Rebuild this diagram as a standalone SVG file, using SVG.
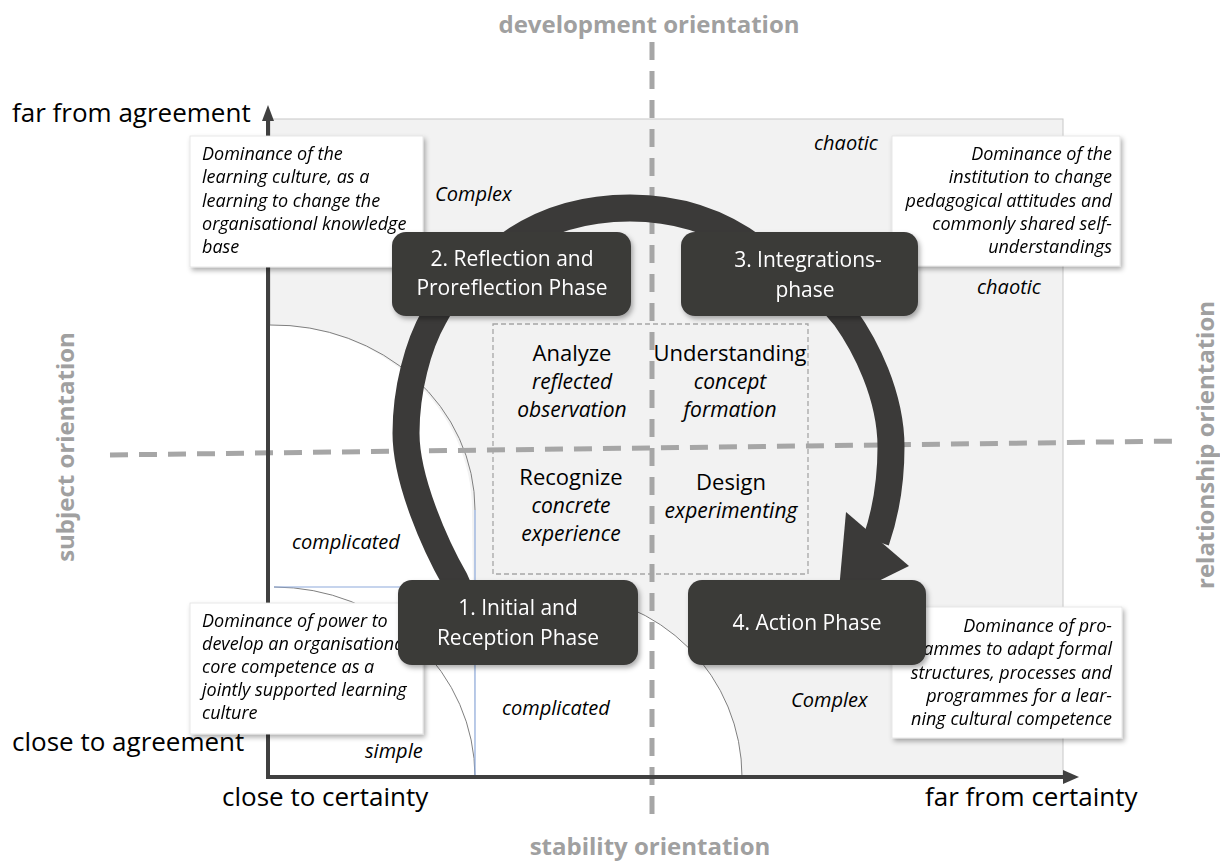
<svg xmlns="http://www.w3.org/2000/svg" width="1220" height="863" viewBox="0 0 1220 863">
  <defs>
    <style>
      .lbl { font-family: "Open Sans", "Noto Sans", sans-serif; fill: #000; }
      .axis-lbl { font-size: 26px; }
      .orient { font-family: "Open Sans", "Noto Sans", sans-serif; font-weight: bold; font-size: 24px; fill: #a0a0a0; }
      .zone { font-style: italic; font-size: 20px; }
      .note { font-style: italic; font-size: 18px; }
      .phase { font-family: "Open Sans", "Noto Sans", sans-serif; font-size: 21px; fill: #fff; text-anchor: middle; }
      .step { font-size: 22px; text-anchor: middle; }
      .sub { font-style: italic; font-size: 21px; text-anchor: middle; }
      .node-box { fill: #3b3a39; }
      .note-box { fill: #fff; stroke: #e2e2e2; stroke-width: 0.8; }
      .guide { fill: none; stroke: #a6a6a6; stroke-width: 5; stroke-dasharray: 18 11; }
      .zone-arc { fill: none; stroke: #7f7f7f; stroke-width: 1; }
      .zone-edge { fill: none; stroke: #8eaadb; stroke-width: 1.2; }
    </style>
    <filter id="shadow" x="-10%" y="-15%" width="125%" height="140%">
      <feDropShadow dx="2" dy="3" stdDeviation="2.4" flood-color="#000" flood-opacity="0.32"/>
    </filter>
  </defs>

  <!-- field of the matrix -->
  <rect x="270" y="119" width="793" height="658" fill="#f2f2f2" stroke="#c8c8c8" stroke-width="1"/>

  <!-- white zones near the origin -->
  <path d="M270,325 A202,185 0 0 1 472,510 L475,777 L270,777 Z" fill="#fff"/>
  <path d="M475,594 L559,594 A183,183 0 0 1 742,777 L475,777 Z" fill="#fff"/>
  <path class="zone-arc" d="M270,325 A202,185 0 0 1 475,510"/>
  <path class="zone-arc" d="M274,587 A201,190 0 0 1 475,777"/>
  <path class="zone-arc" d="M559,594 A183,183 0 0 1 742,777"/>
  <path class="zone-edge" d="M274,587 L475,587 M475,510 L475,777"/>

  <!-- inner learning-cycle frame -->
  <rect x="493" y="324" width="315" height="250" fill="none" stroke="#a6a6a6" stroke-width="1.3" stroke-dasharray="5 3"/>

  <!-- zone labels -->
  <g class="lbl zone">
    <text x="435" y="201">Complex</text>
    <text x="814" y="150">chaotic</text>
    <text x="977" y="294">chaotic</text>
    <text x="292" y="549">complicated</text>
    <text x="502" y="715">complicated</text>
    <text x="365" y="758">simple</text>
    <text x="791" y="707">Complex</text>
  </g>

  <!-- learning steps -->
  <g id="step-analyze" class="lbl">
    <text class="step" x="572" y="361">Analyze</text>
    <text class="sub" x="572" y="389">reflected</text>
    <text class="sub" x="572" y="417">observation</text>
  </g>
  <g id="step-understanding" class="lbl">
    <text class="step" x="730" y="361">Understanding</text>
    <text class="sub" x="730" y="389">concept</text>
    <text class="sub" x="730" y="417">formation</text>
  </g>
  <g id="step-recognize" class="lbl">
    <text class="step" x="571" y="485">Recognize</text>
    <text class="sub" x="571" y="513">concrete</text>
    <text class="sub" x="571" y="541">experience</text>
  </g>
  <g id="step-design" class="lbl">
    <text class="step" x="731" y="490">Design</text>
    <text class="sub" x="731" y="518">experimenting</text>
  </g>

  <!-- orientation guides -->
  <line class="guide" x1="652" y1="42" x2="652" y2="816"/>
  <line class="guide" x1="110" y1="455" x2="1182" y2="441"/>

  <!-- axes -->
  <g id="axes" fill="none" stroke="#404040" stroke-width="4">
    <polyline points="268,779 268,121"/>
    <polygon points="268,105 262,121 274,121" fill="#404040" stroke="none"/>
    <polyline points="266,777 1064,777"/>
    <polygon points="1079,777 1063,770 1063,784" fill="#404040" stroke="none"/>
  </g>

  <!-- connectors: the phase cycle -->
  <g id="connectors" fill="none" stroke="#3b3a39" stroke-width="27">
    <path d="M466,605 L455,580 C435,545 406,480 406,433 C406,390 418,345 434,317 L448,292"/>
    <path d="M492,258 C535,220 585,208 630,208 C680,208 722,222 760,252"/>
    <path d="M822,290 L845,317 C865,345 891,395 891,447 C891,480 886,512 876,541"/>
    <polygon points="846,512 909,566 838,601" fill="#3b3a39" stroke="none"/>
  </g>

  <!-- notes -->
  <g id="note-learning-culture" filter="url(#shadow)">
    <rect class="note-box" x="190" y="136" width="233" height="131"/>
    <text class="lbl note" x="202" y="160">Dominance of the</text>
    <text class="lbl note" x="202" y="183">learning culture, as a</text>
    <text class="lbl note" x="202" y="207">learning to change the</text>
    <text class="lbl note" x="202" y="230">organisational knowledge</text>
    <text class="lbl note" x="202" y="253">base</text>
  </g>
  <g id="note-institution" filter="url(#shadow)">
    <rect class="note-box" x="892" y="136" width="228" height="130"/>
    <g class="lbl note" text-anchor="end">
      <text x="1112" y="160">Dominance of the</text>
      <text x="1112" y="183">institution to change</text>
      <text x="1112" y="207">pedagogical attitudes and</text>
      <text x="1112" y="230">commonly shared self-</text>
      <text x="1112" y="253">understandings</text>
    </g>
  </g>
  <g id="note-power" filter="url(#shadow)">
    <rect class="note-box" x="190" y="603" width="233" height="131"/>
    <text class="lbl note" x="202" y="627">Dominance of power to</text>
    <text class="lbl note" x="202" y="650">develop an organisational</text>
    <text class="lbl note" x="202" y="673">core competence as a</text>
    <text class="lbl note" x="202" y="696">jointly supported learning</text>
    <text class="lbl note" x="202" y="719">culture</text>
  </g>
  <g id="note-programmes" filter="url(#shadow)">
    <rect class="note-box" x="892" y="607" width="230" height="131"/>
    <g class="lbl note" text-anchor="end">
      <text x="1112" y="632">Dominance of pro-</text>
      <text x="1112" y="655">grammes to adapt formal</text>
      <text x="1112" y="679">structures, processes and</text>
      <text x="1112" y="702">programmes for a lear-</text>
      <text x="1112" y="725">ning cultural competence</text>
    </g>
  </g>

  <!-- phases -->
  <g id="phase-2" filter="url(#shadow)">
    <rect class="node-box" x="392" y="232" width="239" height="84" rx="14"/>
    <text class="phase" x="512" y="266">2. Reflection and</text>
    <text class="phase" x="512" y="295">Proreflection Phase</text>
  </g>
  <g id="phase-3" filter="url(#shadow)">
    <rect class="node-box" x="681" y="232" width="237" height="84" rx="14"/>
    <text class="phase" x="808" y="267">3. Integrations-</text>
    <text class="phase" x="805" y="297">phase</text>
  </g>
  <g id="phase-1" filter="url(#shadow)">
    <rect class="node-box" x="398" y="580" width="240" height="85" rx="14"/>
    <text class="phase" x="518" y="615">1. Initial and</text>
    <text class="phase" x="518" y="645">Reception Phase</text>
  </g>
  <g id="phase-4" filter="url(#shadow)">
    <rect class="node-box" x="688" y="580" width="238" height="85" rx="14"/>
    <text class="phase" x="807" y="630">4. Action Phase</text>
  </g>

  <!-- axis captions -->
  <g class="lbl axis-lbl">
    <text x="12" y="122">far from agreement</text>
    <text x="12" y="751">close to agreement</text>
    <text x="222" y="806">close to certainty</text>
    <text x="925" y="806">far from certainty</text>
  </g>
  <g class="orient" text-anchor="middle">
    <text x="649" y="33">development orientation</text>
    <text x="650" y="855">stability orientation</text>
    <text transform="translate(74,447) rotate(-90)">subject orientation</text>
    <text transform="translate(1214,445) rotate(-90)">relationship orientation</text>
  </g>
</svg>
